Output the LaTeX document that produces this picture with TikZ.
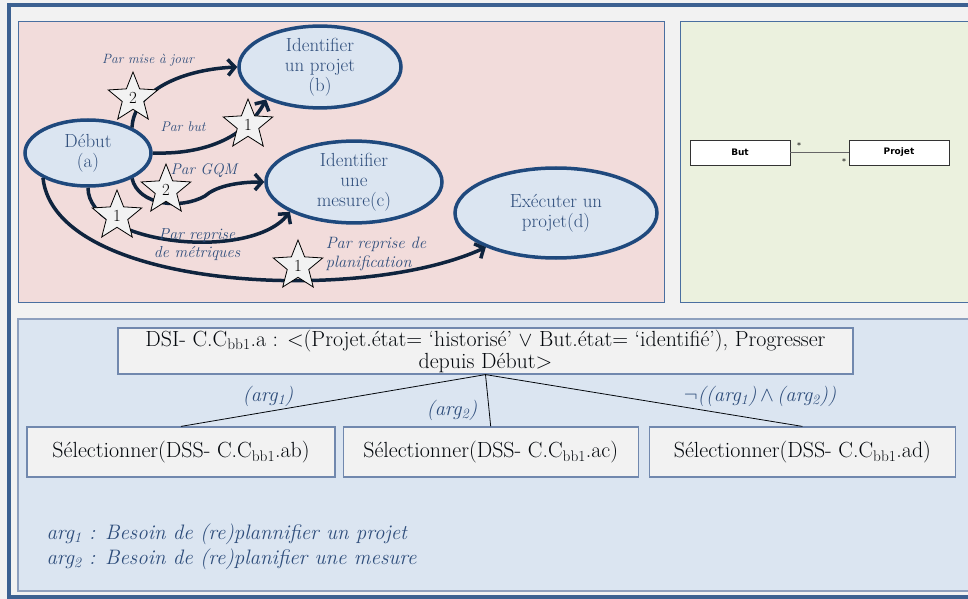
\documentclass[tikz,border=0pt]{standalone}
\usepackage{fontspec}
\newfontfamily\umlfont{DejaVu Sans}
\usetikzlibrary{arrows.meta,shapes.geometric,positioning}
\definecolor{frameblue}{HTML}{3C6191}
\definecolor{panelline}{HTML}{4A6FA0}
\definecolor{pinkbg}{HTML}{F2DCDB}
\definecolor{greenbg}{HTML}{EBF1DE}
\definecolor{bluebg}{HTML}{DBE5F1}
\definecolor{greybg}{HTML}{F2F2F2}
\definecolor{ellline}{HTML}{1F497D}
\definecolor{txtblue}{HTML}{2E4D7B}
\definecolor{navy}{HTML}{0F243E}
\definecolor{boxline}{HTML}{7188AE}

\begin{document}
\begin{tikzpicture}[x=1bp,y=-1bp,>={Straight Barb[length=7bp,width=16bp]},every node/.style={text=txtblue}]
  \tikzset{etat/.style={ellipse,draw=ellline,line width=3.5bp,fill=bluebg,inner sep=0pt,align=center,
                        font=\fontsize{19}{20}\selectfont},
           etoile/.style={star,star points=5,star point ratio=2.3,minimum size=52bp,inner sep=0pt,
                          draw=black,line width=0.8bp,fill=greybg,text=black,font=\fontsize{17}{17}\selectfont},
           fleche/.style={->,draw=navy,line width=3.5bp},
           lib/.style={font=\fontsize{13.5}{18}\selectfont\itshape,align=center},
           carre/.style={draw=boxline,line width=1.2bp,fill=greybg,minimum height=50bp,inner sep=1pt,
                         text=black!80!navy,font=\fontsize{22}{22}\selectfont},
           uml/.style={draw=black!80,line width=0.8bp,fill=white,minimum width=100bp,minimum height=25bp,
                       inner sep=0pt,text=black,font=\umlfont\bfseries\fontsize{9}{10}\selectfont},
           arg/.style={font=\fontsize{20.5}{22}\selectfont\itshape}}
  \useasboundingbox (0,0) rectangle (968,599);
  \fill[greybg] (0,0) rectangle (968,599);
  \draw[frameblue,line width=4bp] (9,3) -- (9,599) (7,5) -- (968,5) (7,597) -- (968,597);
  \draw[panelline,line width=1bp,fill=pinkbg] (18,22) rectangle (664,302);
  \draw[panelline,line width=1bp,fill=greenbg] (680,22) rectangle (975,302);
  \draw[boxline!80,line width=2bp,fill=bluebg] (18,319) rectangle (975,591);

  \node[etat,minimum width=126bp,minimum height=66bp] (a) at (88,153) {Début\\(a)};
  \node[etat,minimum width=162bp,minimum height=78bp] (b) at (320,67) {Identifier\\un projet\\(b)};
  \node[etat,minimum width=176bp,minimum height=74bp] (c) at (354,182) {Identifier\\une\\mesure(c)};
  \node[etat,minimum width=202bp,minimum height=90bp] (d) at (556,213) {Exécuter un\\projet(d)};

  \draw[fleche] (a.30) .. controls (133,95) and (175,70) .. (b.west);
  \draw[fleche] (a.east) .. controls (215,155) and (250,130) .. (b.211);
  \draw[fleche] (a.-30) .. controls (138,205) and (180,210) .. (205,196) .. controls (215,187) and (235,182) .. (c.west);
  \draw[fleche] (a.south) .. controls (88,245) and (250,262) .. (c.205);
  \draw[fleche] (a.209) .. controls (55,290) and (360,305) .. (d.206);

  \node[etoile] (s1) at (133,98) {2};
  \node[etoile] (s2) at (248,125) {1};
  \node[etoile] (s3) at (166,190) {2};
  \node[etoile] (s4) at (117,216) {1};
  \node[etoile] (s5) at (298,266) {1};

  \node[lib] (l1) at (148,60) {Par mise à jour};
  \node[lib,font=\fontsize{14}{16}\selectfont\itshape] (l2) at (183,127) {Par but};
  \node[lib,font=\fontsize{15.5}{16}\selectfont\itshape] (l3) at (204,171) {Par GQM};
  \node[lib,font=\fontsize{16}{18}\selectfont\itshape] (l4) at (197,245) {Par reprise\\de métriques};
  \node[lib,font=\fontsize{16.5}{20}\selectfont\itshape,align=left] (l5) at (376,254) {Par reprise de\\planification};

  \node[uml] (but) at (740,152.5) {But};
  \node[uml] (projet) at (899,152.5) {Projet};
  \draw[black!60,line width=1.2bp] (but.east) -- (projet.west);
  \node[text=black,font=\umlfont\fontsize{8}{8}\selectfont] (m1) at (799,146) {*};
  \node[text=black,font=\umlfont\fontsize{8}{8}\selectfont] (m2) at (844,162) {*};

  \node[carre,minimum width=735bp,minimum height=46bp,align=center] (dsi) at (485.5,351)
    {DSI- C.C\textsubscript{bb1}.a : <(Projet.état= ‘historisé’ $\vee$ But.état= ‘identifié’), Progresser\\depuis Début>};
  \node[carre,minimum width=308bp] (ab) at (181,452) {Sélectionner(DSS- C.C\textsubscript{bb1}.ab)};
  \node[carre,minimum width=295bp,right=7bp of ab] (ac) {Sélectionner(DSS- C.C\textsubscript{bb1}.ac)};
  \node[carre,minimum width=306bp,right=10bp of ac] (ad) {Sélectionner(DSS- C.C\textsubscript{bb1}.ad)};
  \draw[black!80!navy,line width=0.8bp] (dsi.south) -- (ab.north) (dsi.south) -- (ac.north) (dsi.south) -- (ad.north);

  \node[arg] (g1) at (268,396) {(arg\textsubscript{1})};
  \node[arg] (g2) at (452,410) {(arg\textsubscript{2})};
  \node[arg] (g3) at (760,396) {$\neg$((arg\textsubscript{1})$\,\wedge\,$(arg\textsubscript{2}))};

  \node[anchor=west,align=left,font=\fontsize{21}{25}\selectfont\itshape] (leg) at (43,547)
    {arg\textsubscript{1} : Besoin de (re)plannifier un projet\\arg\textsubscript{2} : Besoin de (re)planifier une mesure};
\end{tikzpicture}
\end{document}
